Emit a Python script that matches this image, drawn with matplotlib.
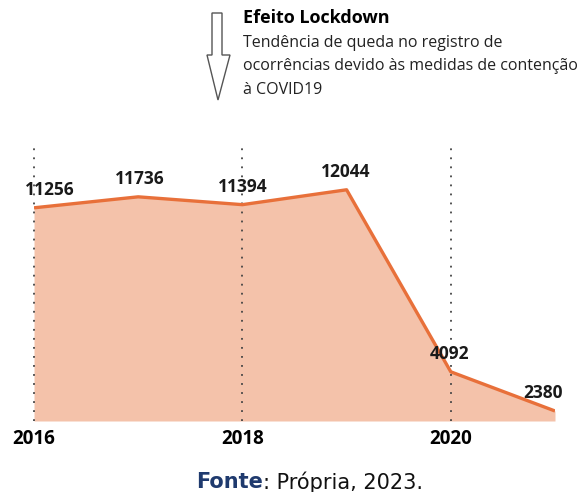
import matplotlib.pyplot as plt
from matplotlib.patches import Polygon

anos = [2016, 2017, 2018, 2019, 2020, 2021]
ocorrencias = [11256, 11736, 11394, 12044, 4092, 2380]
anos_marcados = [2016, 2018, 2020]

# ajuste horizontal dos rótulos das pontas (pixels)
desloc_x = [16, 2, 0, -1, -1, -12]

W, H = 581, 492
fig = plt.figure(figsize=(W / 100, H / 100), dpi=100)

def px(x, y):
    return x / W, 1 - y / H

ax = fig.add_axes([34 / W, 1 - 421 / H, (555 - 34) / W, (421 - 145) / H])
ax.set_xlim(2016, 2021)
ax.set_ylim(1943, 14000)

ax.fill_between(anos, ocorrencias, 1943, color='#F4C2AA', lw=0)
ax.plot(anos, ocorrencias, color='#E8703A', lw=2.4, solid_capstyle='butt', zorder=3)

for a in anos_marcados:
    ax.axvline(a, color='#444444', lw=1.3, ls=(0, (1, 4)), zorder=2, clip_on=False)

for a, v, dx in zip(anos, ocorrencias, desloc_x):
    ax.annotate(str(v), (a, v), xytext=(dx, 18), textcoords='offset pixels',
                ha='center', va='center', fontsize=12.5, fontweight='bold',
                family='Open Sans', color='#1a1a1a', zorder=4)

ax.set_xticks(anos_marcados)
ax.set_xticklabels([str(a) for a in anos_marcados], fontsize=13.5,
                   fontweight='bold', family='Open Sans')
ax.tick_params(axis='x', length=0, pad=6)
ax.set_yticks([])
for s in ax.spines.values():
    s.set_visible(False)

# seta vazada "Efeito Lockdown"
seta = [(212, 13), (222, 13), (222, 55), (230, 55), (218, 100),
        (207, 55), (212, 55)]
fig.patches.append(Polygon([px(x, y) for x, y in seta], closed=True,
                           transform=fig.transFigure, fill=False,
                           edgecolor='#555555', lw=1))

fig.text(*px(243, 18), 'Efeito Lockdown', fontsize=13, fontweight='bold',
         family='Open Sans', va='center', ha='left')
linhas = ['Tendência de queda no registro de',
          'ocorrências devido às medidas de contenção',
          'à COVID19']
for i, t in enumerate(linhas):
    fig.text(*px(243, 43 + 23.5 * i), t, fontsize=11.5, family='Open Sans',
             va='center', ha='left', color='#222222')

fonte = fig.text(*px(196, 482), 'Fonte', fontsize=15, fontweight='bold',
                 color='#1F3A6E', va='center', ha='left')
ax.annotate(': Própria, 2023.', xy=(1, 0.5), xycoords=fonte, fontsize=15,
            color='#111111', va='center', ha='left', annotation_clip=False)

fig.savefig('out.png', dpi=100)
